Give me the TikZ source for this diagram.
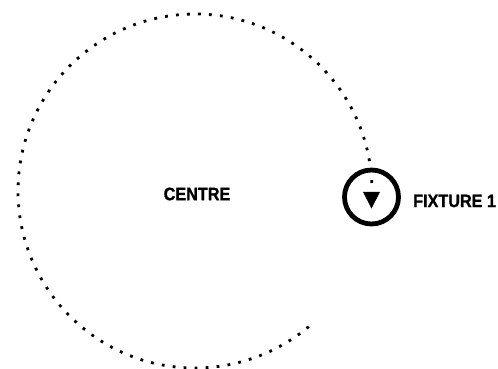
\documentclass[tikz,border=0pt]{standalone}
\usepackage{fontspec}
\newfontfamily\lblfont[FakeStretch=0.9,FakeBold=1.2]{Liberation Sans}
\tikzset{
  lbl/.style={inner sep=0pt, font=\lblfont\fontsize{18pt}{18pt}\selectfont\bfseries},
  orbit/.style={line width=2.8pt, dash pattern=on 2.8pt off 8.21pt},
  fixring/.style={circle, draw, line width=4.8pt, minimum size=54pt, inner sep=0pt},
}
\begin{document}
\begin{tikzpicture}[x=1pt,y=1pt]
\useasboundingbox (0,0) rectangle (498,369);
\coordinate (ctr) at (195,178);
\node[lbl] (centre) at (197,175) {CENTRE};
\draw[orbit] (ctr) ++(2.6:177) coordinate (orbitstart)
  arc[start angle=2.6, end angle=310, radius=177] coordinate (orbitend);
\node[fixring] (fix) at (371.5,172) {};
\fill (fix.center) ++(-8.5,5) -- ++(17,0) -- ++(-8.5,-16.5) -- cycle;
\node[lbl, anchor=west] (fixlbl) at (413,168) {FIXTURE 1};
\end{tikzpicture}
\end{document}
